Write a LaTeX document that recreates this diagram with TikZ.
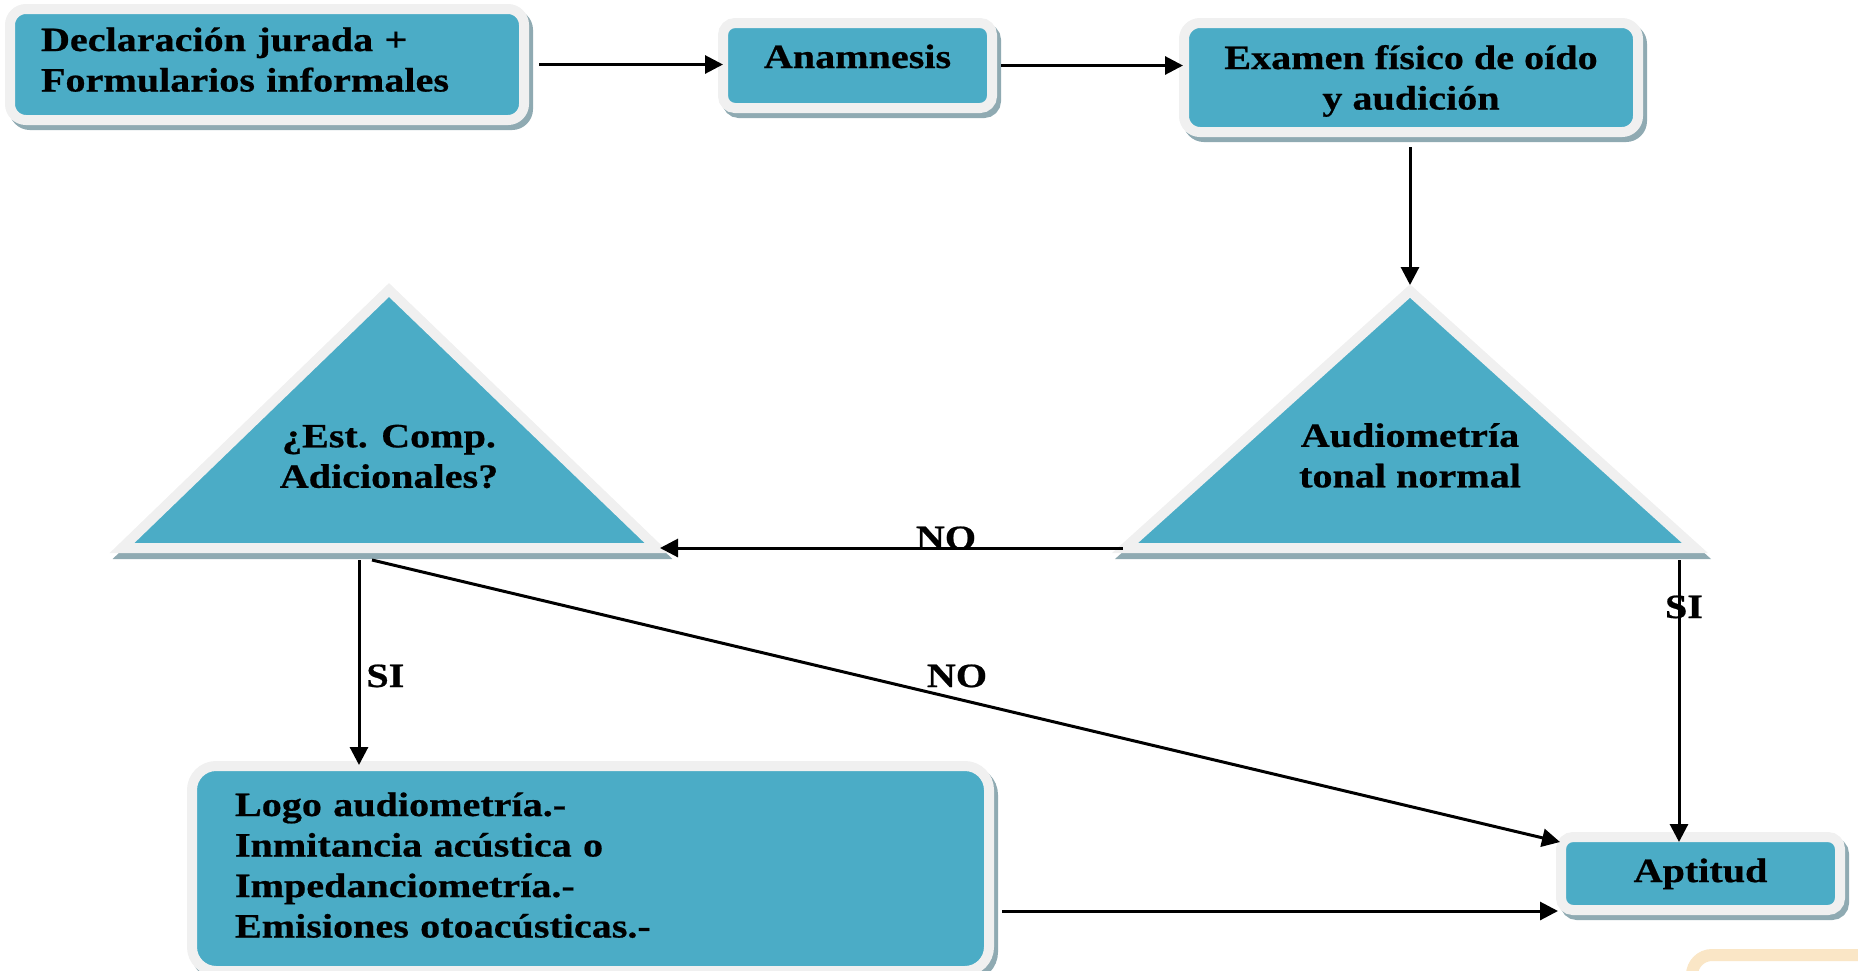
\documentclass[tikz,border=0pt]{standalone}
\usepackage{fontspec}
\setmainfont{Liberation Serif}[FakeStretch=1.18,FakeBold=0.6]
\usetikzlibrary{arrows.meta,calc}
\definecolor{tealc}{RGB}{75,172,198}
\definecolor{bordc}{RGB}{240,240,240}
\definecolor{shadc}{RGB}{143,170,178}
\definecolor{glowc}{RGB}{250,230,198}
\newcommand{\tops}[1]{\rule{0pt}{#1}}
\newcommand{\bots}[1]{\rule[-#1]{0pt}{0pt}}
\begin{document}
\begin{tikzpicture}[x=0.5pt,y=-0.5pt,
  txt/.style={font=\fontsize{17}{20.25}\selectfont\bfseries, text=black},
  box/.style={txt, draw=bordc, fill=tealc, line width=5pt, inner sep=0pt,
    preaction={draw=shadc, fill=shadc, line width=5pt, transform canvas={shift={(2pt,-2.5pt)}}}},
  tri/.style={draw=bordc, fill=tealc, line width=5pt, line join=miter,
    preaction={draw=shadc, fill=shadc, line width=5pt, transform canvas={shift={(1.5pt,-3pt)}}}},
  arr/.style={line width=1.5pt, -{Triangle[length=9pt,width=9pt]}},
  lab/.style={txt, inner sep=0pt, anchor=base},
  ttxt/.style={txt, align=center, inner sep=0pt}
]
\useasboundingbox (0,0) rectangle (1858,970);

% boxes
\node[box, rounded corners=8pt, minimum width=257pt, minimum height=55.5pt,
      text width=226pt, align=left] (b1) at (267,64.5)
  {\tops{14pt}Declaración jurada +\\Formularios informales\bots{7.25pt}};
\node[box, rounded corners=6pt, minimum width=134.5pt, minimum height=42.5pt,
      align=center] (b2) at (857.5,65.5)
  {\tops{14pt}Anamnesis\bots{11.5pt}};
\node[box, rounded corners=8pt, minimum width=227pt, minimum height=54.5pt,
      align=center] (b3) at (1411,77.5)
  {\tops{16.5pt}Examen físico de oído\\y audición\bots{4.75pt}};
\node[box, rounded corners=12pt, minimum width=398.5pt, minimum height=102.5pt,
      text width=355.5pt, align=left] (b5) at (590.5,868.5)
  {\tops{14pt}Logo audiometría.-\\Inmitancia acústica o\\Impedanciometría.-\\Emisiones otoacústicas.-\bots{5.75pt}};
\node[box, rounded corners=6pt, minimum width=139.5pt, minimum height=36.5pt,
      align=center] (b6) at (1700.5,873.5)
  {\tops{14pt}Aptitud\bots{5.5pt}};

% triangles
\path[tri] (389,290) coordinate (t1top) -- (657,548) coordinate (t1r)
  -- (122,548) coordinate (t1l) -- cycle;
\node[ttxt] (t1txt) at (389,466.25)
  {\tops{10pt}¿Est. Comp.\\Adicionales?\bots{10pt}};
\path[tri] (1410,291) coordinate (t2top) -- (1695,548) coordinate (t2r)
  -- (1125,548) coordinate (t2l) -- cycle;
\node[ttxt] (t2txt) at (1410,465.25)
  {\tops{10pt}Audiometría\\tonal normal\bots{10pt}};

% connector end points
\coordinate (t2tip) at ($(t2top)+(0,-6)$);
\coordinate (n1s) at ($(t2l)+(-2,0)$);
\coordinate (n1e) at ($(t1r)+(3,0)$);
\coordinate (s1) at (359,560);
\coordinate (d1) at (372,560);
\coordinate (s2) at (1679,560);
\coordinate (e1) at ($(b5.east)+(8,42.5)$);

% connectors
\draw[arr, shorten >=-2.5pt] ($(b1.east)+(10,0)$) -- (b1.east -| b2.west);
\draw[arr, shorten >=-2pt] ($(b2.east)+(4,0)$) -- (b2.east -| b3.west);
\draw[arr] ($(t2tip |- b3.south)+(0,10)$) -- (t2tip);
\draw[arr] (n1s) -- (n1e);
\draw[arr, shorten >=-2pt] (s1) -- (s1 |- b5.north);
\draw[arr] (d1) -- ($(b6.north west)+(4,10)$);
\draw[arr, shorten >=-5pt] (s2) -- (s2 |- b6.north);
\draw[arr, shorten >=-1pt] (e1) -- (e1 -| b6.west);

% labels
\node[lab] (no1) at (946,549) {NO};
\node[lab, anchor=base west] (si1) at (366,687) {SI};
\node[lab] (no2) at (957,687) {NO};
\node[lab] (si2) at (1684,618) {SI};

% clipped picture fragment in the corner
\draw[line width=6pt, draw=glowc, fill=white, rounded corners=10pt]
  (1692,955) rectangle (1900,1010);
\end{tikzpicture}
\end{document}
